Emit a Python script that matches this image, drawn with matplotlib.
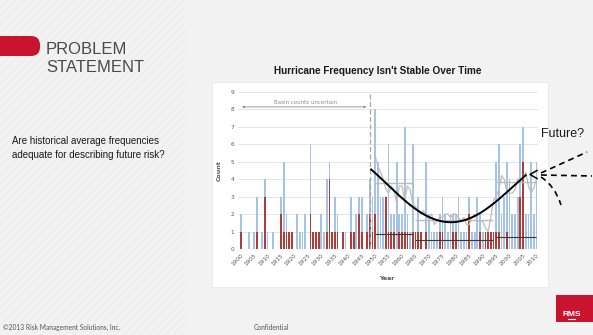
import numpy as np
import pandas as pd
import matplotlib
matplotlib.use("Agg")
import matplotlib.pyplot as plt
from matplotlib.patches import Rectangle, FancyBboxPatch, PathPatch
from matplotlib.path import Path
from matplotlib.lines import Line2D
from matplotlib.transforms import Affine2D

# ---- data -----------------------------------------------------------------
years = np.arange(1900, 2011)

# all hurricanes in the count (blue bars), one value per year 1900..2010
all_counts = [
    2, 0, 0, 1, 0, 1, 3, 0, 1, 4,   # 1900s
    1, 0, 1, 0, 0, 3, 5, 2, 1, 1,   # 1910s
    0, 2, 1, 1, 2, 0, 6, 1, 1, 1,   # 1920s
    2, 1, 4, 5, 1, 3, 2, 0, 1, 1,   # 1930s
    0, 3, 1, 2, 3, 3, 0, 2, 4, 3,   # 1940s
    8, 5, 3, 3, 3, 6, 2, 2, 5, 2,   # 1950s
    2, 7, 2, 1, 6, 1, 3, 1, 0, 5,   # 1960s
    2, 1, 1, 1, 2, 3, 2, 1, 2, 2,   # 1970s
    2, 3, 1, 1, 1, 3, 1, 1, 3, 2,   # 1980s
    1, 1, 1, 1, 1, 5, 6, 2, 3, 5,   # 1990s
    4, 2, 2, 3, 6, 7, 2, 2, 5, 2,   # 2000s
    5,                              # 2010
]

# major hurricanes (red bars)
major_counts = [
    1, 0, 0, 0, 0, 0, 1, 0, 0, 3,
    0, 0, 0, 0, 0, 2, 1, 1, 1, 1,
    0, 0, 0, 0, 0, 0, 2, 1, 1, 1,
    0, 0, 1, 4, 1, 1, 1, 0, 1, 0,
    0, 1, 1, 0, 2, 1, 0, 1, 2, 1,
    2, 0, 0, 0, 3, 1, 1, 1, 0, 1,
    1, 1, 1, 0, 1, 1, 1, 1, 0, 1,
    0, 0, 0, 0, 1, 1, 0, 0, 0, 1,
    1, 0, 0, 0, 0, 2, 0, 0, 0, 1,
    0, 1, 1, 1, 1, 1, 1, 0, 0, 1,
    0, 0, 0, 0, 3, 5, 0, 0, 0, 0,
    0,
]

# periods over which the average level is drawn
periods = [(1950, 1964), (1965, 1994), (1995, 2010)]

# points along the long-term trend curve
trend_years = [1948.5, 1955.5, 1968, 1977, 1992.5, 1999, 2006]
trend_values = [4.57, 3.5, 2.1, 1.43, 2.5, 3.2, 4.23]

x_ticks = list(range(1900, 2011, 5))
y_ticks = list(range(0, 10))

# ---- figure -----------------------------------------------------------------
W, H = 593, 335
fig = plt.figure(figsize=(W / 100, H / 100), dpi=100)
fig.patch.set_facecolor("#f2f2f2")
plt.rcParams["hatch.linewidth"] = 0.6

# pixel coordinates, origin at top-left
T = Affine2D().scale(1 / W, -1 / H).translate(0, 1) + fig.transFigure

# diagonal pattern on the left panel
fig.add_artist(Rectangle((0, 0), 187, H, transform=T, facecolor="none",
                         edgecolor="#eaeaea", hatch="////", lw=0, zorder=-2))

# red tab next to the heading
fig.add_artist(FancyBboxPatch((3, 36), 37, 20, transform=T,
                              boxstyle="round,pad=0,rounding_size=9",
                              facecolor="#c8142e", edgecolor="none", zorder=-1))
fig.add_artist(Rectangle((0, 36), 20, 20, transform=T,
                         facecolor="#c8142e", edgecolor="none", zorder=-1))

fig.text(46 / W, 1 - 49 / H, "PROBLEM", fontsize=12, color="#4a4a4a",
         family="Liberation Sans", va="center", ha="left")
fig.text(46 / W, 1 - 67.5 / H, "STATEMENT", fontsize=12, color="#4a4a4a",
         family="Liberation Sans", va="center", ha="left")

fig.text(12 / W, 1 - 141.5 / H, "Are historical average frequencies",
         fontsize=7, color="#1a1a1a", family="Liberation Sans", va="center")
fig.text(12 / W, 1 - 155 / H, "adequate for describing future risk?",
         fontsize=7, color="#1a1a1a", family="Liberation Sans", va="center")

fig.text(378 / W, 1 - 70.5 / H, "Hurricane Frequency Isn't Stable Over Time",
         fontsize=7.2, fontweight="bold", color="#1a1a1a",
         family="Liberation Sans", ha="center", va="center")

# white card holding the chart
fig.add_artist(Rectangle((212, 82), 336, 205, transform=T,
                         facecolor="white", edgecolor="#e4e4e4", lw=0.5,
                         zorder=-1))

# footer
fig.text(3 / W, 1 - 327 / H, "\u00a92013 Risk Management Solutions, Inc.",
         fontsize=4.8, color="#555555", family="Lato", va="center")
fig.text(254 / W, 1 - 327 / H, "Confidential", fontsize=4.8,
         color="#555555", family="Lato", va="center")

# logo
fig.add_artist(Rectangle((556, 295), 37, 27, transform=T,
                         facecolor="#c8142e", edgecolor="none", zorder=-1))
fig.text(572 / W, 1 - 314 / H, "RMS", fontsize=6, fontweight="bold",
         color="white", family="Liberation Sans", ha="center", va="center")
fig.add_artist(Line2D([568, 575], [319, 319], transform=T, color="white",
                      lw=0.8))

# ---- chart ------------------------------------------------------------------
ax = fig.add_axes([238 / W, 1 - 249 / H, 300.3 / W, (249 - 91.7) / H])
ax.set_zorder(2)
ax.set_facecolor("white")
ax.set_xlim(1899.0, 2010.67)
ax.set_ylim(0, 9)
for s in ax.spines.values():
    s.set_visible(False)
ax.set_yticks(y_ticks)
ax.set_xticks(x_ticks)
ax.set_xticklabels([str(t) for t in x_ticks], rotation=45, ha="right",
                   rotation_mode="anchor")
ax.tick_params(length=0, labelsize=4.2, colors="#595959", pad=2.5)
ax.grid(axis="y", color="#dcdcdc", lw=0.5, zorder=0)
ax.set_axisbelow(True)

ax.bar(years, all_counts, width=0.65, color="#a5c2e7", zorder=2)
ax.bar(years, major_counts, width=0.65, color="#b03c36", zorder=3)

# five-year running mean of the full count since 1950
series = pd.Series(all_counts, index=years).loc[1950:]
running = series.rolling(5, center=True, min_periods=3).mean()
ax.plot(running.index, running.values, color="#bdbdbd", lw=0.9, zorder=4)

# period averages
all_s = pd.Series(all_counts, index=years)
maj_s = pd.Series(major_counts, index=years)
for a, b in periods:
    ax.hlines(all_s.loc[a:b].mean(), a, b, color="#bcbcbc", lw=1.0, zorder=5)
    ax.hlines(maj_s.loc[a:b].mean(), a, b, color="#3a3a3a", lw=0.8, zorder=5)

# long-term trend (smooth polynomial through the curve points)
coef = np.polyfit(trend_years, trend_values, 4)
xs = np.linspace(trend_years[0], trend_years[-1], 200)
ax.plot(xs, np.polyval(coef, xs), color="black", lw=1.4, zorder=6)

# start of reliable basin counts
ax.axvline(1948.2, color="#a6a6a6", lw=0.9, ls=(0, (4, 2)), zorder=4)
ax.annotate("", xy=(1900.5, 8.13), xytext=(1946.8, 8.13),
            arrowprops=dict(arrowstyle="<|-|>", color="#8c8c8c", lw=0.6,
                            mutation_scale=3, shrinkA=0, shrinkB=0))
ax.text(1924, 8.38, "Basin counts uncertain", fontsize=4, color="#8c8c8c",
        ha="center", va="center")

ax.set_ylabel("Count", fontsize=4.5, fontweight="bold", color="#595959")
ax.yaxis.set_label_coords(-0.054, 0.5)
fig.text(386.7 / W, 1 - 279 / H, "Year", fontsize=4.5, fontweight="bold",
         color="#595959", ha="center", va="center")

# ---- what comes next --------------------------------------------------------
fig.text(563 / W, 1 - 134 / H, "Future?", fontsize=9, color="#1a1a1a",
         family="Liberation Sans", ha="center", va="center")
dash = (0, (3.5, 2.5))
fig.add_artist(Line2D([537, 530, 537], [170.5, 174.5, 178.5], transform=T,
                      color="black", lw=1.1, zorder=6))
fig.add_artist(Line2D([541, 587], [173, 152], transform=T, color="black",
                      lw=1.2, ls=dash, zorder=6))
fig.add_artist(Line2D([541, 592], [175, 176], transform=T, color="black",
                      lw=1.2, ls=dash, zorder=6))
curve = Path([(541, 177), (555, 186), (561, 205)],
             [Path.MOVETO, Path.CURVE3, Path.CURVE3])
fig.add_artist(PathPatch(curve, transform=T, facecolor="none",
                         edgecolor="black", lw=1.2, ls=dash, zorder=6))

fig.savefig("out.png", dpi=100, facecolor=fig.get_facecolor())
